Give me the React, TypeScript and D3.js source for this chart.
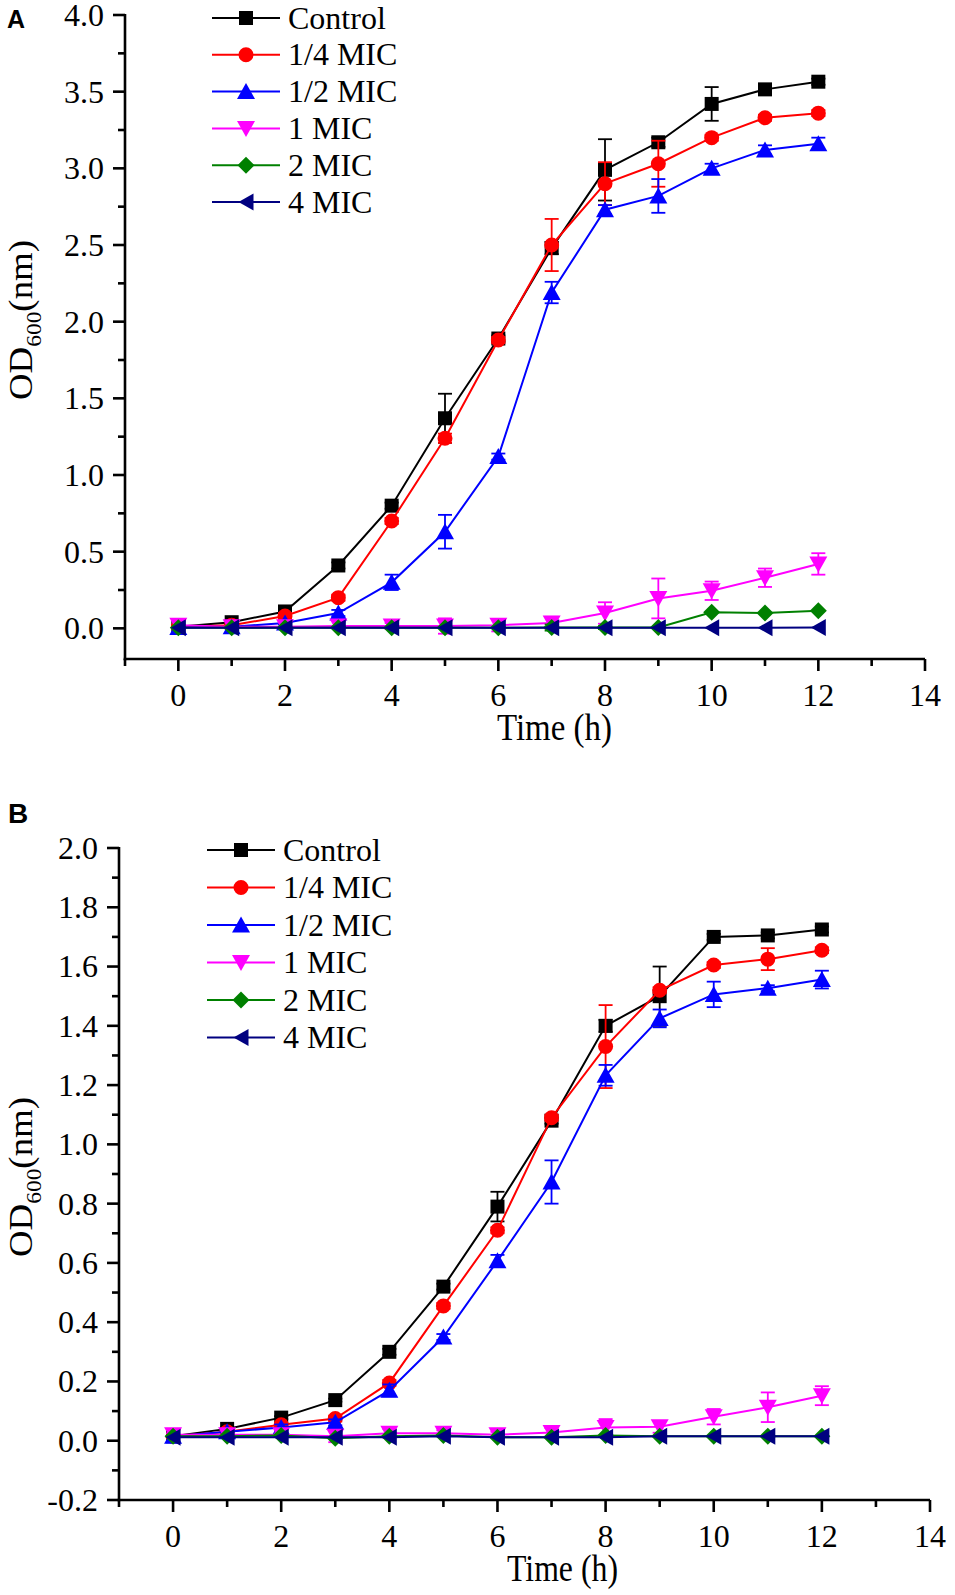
import React from 'react';
import * as d3 from 'd3';

// ---------- data ----------
const hours = [0, 1, 2, 3, 4, 5, 6, 7, 8, 9, 10, 11, 12];
const seriesNames = ['Control', '1/4 MIC', '1/2 MIC', '1 MIC', '2 MIC', '4 MIC'];
const seriesColors = ['#000000', '#ff0000', '#0000ff', '#ff00ff', '#008000', '#000080'];
const seriesShapes = ['square', 'circle', 'up', 'down', 'diamond', 'left'];

const xTicks = [0, 2, 4, 6, 8, 10, 12, 14];
const xMinorTicks = [-1, 1, 3, 5, 7, 9, 11, 13];

// Panel A
const aYTicks = [0, 0.5, 1.0, 1.5, 2.0, 2.5, 3.0, 3.5, 4.0];
const aYMinorTicks = [0.25, 0.75, 1.25, 1.75, 2.25, 2.75, 3.25, 3.75];
const aControl = [0.01, 0.04, 0.11, 0.41, 0.80, 1.37, 1.89, 2.48, 2.99, 3.17, 3.42, 3.515, 3.565];
const aControlErr = [0, 0.01, 0.01, 0.02, 0.02, 0.16, 0.02, 0.04, 0.2, 0.03, 0.11, 0.02, 0.02];
const aQuarter = [0.01, 0.02, 0.08, 0.2, 0.7, 1.24, 1.88, 2.5, 2.9, 3.03, 3.2, 3.33, 3.36];
const aQuarterErr = [0, 0.01, 0.02, 0.02, 0.02, 0.03, 0.02, 0.17, 0.14, 0.15, 0.02, 0.02, 0.02];
const aHalf = [0.005, 0.01, 0.035, 0.1, 0.3, 0.63, 1.12, 2.19, 2.73, 2.82, 3.0, 3.12, 3.16];
const aHalfErr = [0, 0, 0.01, 0.02, 0.05, 0.11, 0.02, 0.07, 0.03, 0.11, 0.03, 0.03, 0.04];
const aOne = [0.02, 0.01, 0.01, 0.015, 0.015, 0.015, 0.02, 0.035, 0.1, 0.195, 0.245, 0.33, 0.42];
const aOneErr = [0, 0, 0, 0, 0.02, 0.05, 0.04, 0.04, 0.07, 0.13, 0.06, 0.06, 0.07];
const aTwo = [0.003, 0.003, 0.003, 0.003, 0.003, 0.003, 0.003, 0.005, 0.005, 0.005, 0.105, 0.1, 0.115];
const aTwoErr = [0, 0, 0, 0, 0, 0, 0, 0.02, 0.01, 0, 0, 0, 0];
const aFour = [0.003, 0.003, 0.003, 0.003, 0.003, 0.003, 0.003, 0.003, 0.003, 0.003, 0.003, 0.004, 0.005];
const aFourErr = [0, 0, 0, 0, 0, 0, 0, 0, 0, 0, 0, 0, 0];

// Panel B
const bYTicks = [-0.2, 0, 0.2, 0.4, 0.6, 0.8, 1.0, 1.2, 1.4, 1.6, 1.8, 2.0];
const bYMinorTicks = [-0.1, 0.1, 0.3, 0.5, 0.7, 0.9, 1.1, 1.3, 1.5, 1.7, 1.9];
const bControl = [0.015, 0.04, 0.078, 0.137, 0.3, 0.52, 0.79, 1.08, 1.4, 1.5, 1.7, 1.705, 1.725];
const bControlErr = [0, 0.005, 0.005, 0.005, 0.01, 0.01, 0.05, 0.01, 0.02, 0.1, 0.01, 0.01, 0.01];
const bQuarter = [0.015, 0.03, 0.054, 0.075, 0.195, 0.455, 0.71, 1.09, 1.33, 1.52, 1.605, 1.625, 1.655];
const bQuarterErr = [0, 0, 0.005, 0.01, 0.01, 0.01, 0.01, 0.01, 0.14, 0.01, 0.01, 0.037, 0.01];
const bHalf = [0.015, 0.03, 0.045, 0.062, 0.17, 0.35, 0.607, 0.873, 1.233, 1.425, 1.506, 1.527, 1.556];
const bHalfErr = [0, 0, 0.01, 0.01, 0.02, 0.01, 0.02, 0.073, 0.035, 0.03, 0.043, 0.01, 0.03];
const bOne = [0.02, 0.02, 0.02, 0.015, 0.025, 0.025, 0.02, 0.028, 0.045, 0.047, 0.081, 0.113, 0.152];
const bOneErr = [0.005, 0, 0.005, 0.02, 0.015, 0.01, 0.01, 0.015, 0.028, 0.02, 0.026, 0.05, 0.032];
const bTwo = [0.015, 0.015, 0.018, 0.008, 0.015, 0.018, 0.012, 0.012, 0.018, 0.015, 0.015, 0.015, 0.015];
const bTwoErr = [0, 0, 0, 0, 0, 0, 0, 0, 0, 0, 0, 0, 0];
const bFour = [0.012, 0.012, 0.012, 0.012, 0.012, 0.015, 0.012, 0.012, 0.012, 0.015, 0.015, 0.015, 0.015];
const bFourErr = [0, 0, 0, 0, 0, 0, 0, 0, 0, 0, 0, 0, 0];

// ---------- drawing ----------
const SERIF = '"Liberation Serif", "Times New Roman", serif';
const SANS = '"Liberation Sans", Arial, sans-serif';

function markerPath(shape: string, cx: number, cy: number): string {
  switch (shape) {
    case 'square': {
      const h = 7;
      return `M${cx - h},${cy - h}H${cx + h}V${cy + h}H${cx - h}Z`;
    }
    case 'circle': {
      const r = 7.5;
      return `M${cx - r},${cy}A${r},${r} 0 1,0 ${cx + r},${cy}A${r},${r} 0 1,0 ${cx - r},${cy}Z`;
    }
    case 'up':
      return `M${cx},${cy - 8.5}L${cx + 9},${cy + 7.5}L${cx - 9},${cy + 7.5}Z`;
    case 'down':
      return `M${cx},${cy + 8.5}L${cx + 9},${cy - 7.5}L${cx - 9},${cy - 7.5}Z`;
    case 'diamond': {
      const h = 8.5;
      return `M${cx},${cy - h}L${cx + h},${cy}L${cx},${cy + h}L${cx - h},${cy}Z`;
    }
    case 'left':
      return `M${cx - 7.5},${cy}L${cx + 7.5},${cy - 8.5}L${cx + 7.5},${cy + 8.5}Z`;
    default:
      return '';
  }
}

interface PanelProps {
  label: string;
  labelX: number;
  labelY: number;
  labelSize: number;
  xRange: [number, number];
  yRange: [number, number];
  yDomain: [number, number];
  yTicks: number[];
  yMinor: number[];
  values: number[][];
  errors: number[][];
  legendX: number;
  legendY: number;
  legendStep: number;
  odCenter: number;
  timeX: number;
  timeLen: number;
}

function Panel(p: PanelProps) {
  const x = d3.scaleLinear().domain([-1, 14]).range(p.xRange);
  const y = d3.scaleLinear().domain(p.yDomain).range(p.yRange);
  const axisX = p.xRange[0];
  const axisY = p.yRange[0];
  const line = d3
    .line<number>()
    .x((_, i) => x(hours[i]))
    .y((v) => y(v));
  const tickMajor = 12;
  const tickMinor = 7;
  const axisW = 2.6;

  return (
    <g>
      <text x={p.labelX} y={p.labelY} fontFamily={SANS} fontWeight="bold" fontSize={p.labelSize}>
        {p.label}
      </text>

      {/* series */}
      {p.values.map((vals, si) => (
        <g key={si}>
          <path d={line(vals) || ''} fill="none" stroke={seriesColors[si]} strokeWidth={2} />
          {vals.map((v, i) => {
            const e = p.errors[si][i];
            if (!e) return null;
            const cx = x(hours[i]);
            return (
              <g key={'e' + i} stroke={seriesColors[si]} strokeWidth={1.8}>
                <line x1={cx} x2={cx} y1={y(v - e)} y2={y(v + e)} />
                <line x1={cx - 7} x2={cx + 7} y1={y(v + e)} y2={y(v + e)} />
                <line x1={cx - 7} x2={cx + 7} y1={y(v - e)} y2={y(v - e)} />
              </g>
            );
          })}
          {vals.map((v, i) => (
            <path key={'m' + i} d={markerPath(seriesShapes[si], x(hours[i]), y(v))} fill={seriesColors[si]} />
          ))}
        </g>
      ))}

      {/* axes */}
      <line x1={axisX} x2={axisX} y1={y(p.yDomain[1]) - 1} y2={axisY + axisW / 2} stroke="#000" strokeWidth={axisW} />
      <line x1={axisX - axisW / 2} x2={p.xRange[1]} y1={axisY} y2={axisY} stroke="#000" strokeWidth={axisW} />
      {p.yTicks.map((t) => (
        <g key={'yt' + t}>
          <line x1={axisX - tickMajor} x2={axisX} y1={y(t)} y2={y(t)} stroke="#000" strokeWidth={axisW} />
          <text
            x={axisX - 21}
            y={y(t)}
            dy="0.34em"
            textAnchor="end"
            fontFamily={SERIF}
            fontSize={32}
          >
            {t.toFixed(1)}
          </text>
        </g>
      ))}
      {p.yMinor.map((t) => (
        <line key={'ym' + t} x1={axisX - tickMinor} x2={axisX} y1={y(t)} y2={y(t)} stroke="#000" strokeWidth={axisW} />
      ))}
      {xTicks.map((t) => (
        <g key={'xt' + t}>
          <line x1={x(t)} x2={x(t)} y1={axisY} y2={axisY + tickMajor} stroke="#000" strokeWidth={axisW} />
          <text x={x(t)} y={axisY + 47} textAnchor="middle" fontFamily={SERIF} fontSize={32}>
            {t}
          </text>
        </g>
      ))}
      {xMinorTicks.map((t) => (
        <line key={'xm' + t} x1={x(t)} x2={x(t)} y1={axisY} y2={axisY + tickMinor} stroke="#000" strokeWidth={axisW} />
      ))}

      {/* axis titles */}
      <text
        x={p.timeX}
        y={axisY + 81}
        fontFamily={SERIF}
        fontSize={38}
        textLength={p.timeLen}
        lengthAdjust="spacingAndGlyphs"
      >
        Time (h)
      </text>
      <text
        transform={`translate(32,${p.odCenter}) rotate(-90)`}
        textAnchor="middle"
        fontFamily={SERIF}
        fontSize={33}
        textLength={160}
        lengthAdjust="spacingAndGlyphs"
      >
        OD
        <tspan fontSize={21} dy={9}>
          600
        </tspan>
        <tspan dy={-9}>(nm)</tspan>
      </text>

      {/* legend */}
      {seriesNames.map((name, si) => {
        const ly = p.legendY + si * p.legendStep;
        return (
          <g key={'lg' + si}>
            <line x1={p.legendX} x2={p.legendX + 68} y1={ly} y2={ly} stroke={seriesColors[si]} strokeWidth={2} />
            <path d={markerPath(seriesShapes[si], p.legendX + 34, ly)} fill={seriesColors[si]} />
            <text x={p.legendX + 76} y={ly} dy="0.33em" fontFamily={SERIF} fontSize={32}>
              {name}
            </text>
          </g>
        );
      })}
    </g>
  );
}

export default function App() {
  return (
    <svg
      width={955}
      height={1595}
      viewBox="0 0 955 1595"
      style={{ position: 'absolute', left: 0, top: 0, background: '#fff' }}
    >
      <rect x={0} y={0} width={955} height={1595} fill="#fff" />
      <Panel
        label="A"
        labelX={7}
        labelY={28}
        labelSize={25}
        xRange={[125, 925]}
        yRange={[659, 15]}
        yDomain={[-0.2, 4.0]}
        yTicks={aYTicks}
        yMinor={aYMinorTicks}
        values={[aControl, aQuarter, aHalf, aOne, aTwo, aFour]}
        errors={[aControlErr, aQuarterErr, aHalfErr, aOneErr, aTwoErr, aFourErr]}
        legendX={212}
        legendY={18}
        legendStep={36.8}
        odCenter={320}
        timeX={497}
        timeLen={115}
      />
      <Panel
        label="B"
        labelX={8}
        labelY={823}
        labelSize={28}
        xRange={[119, 930]}
        yRange={[1500, 848]}
        yDomain={[-0.2, 2.0]}
        yTicks={bYTicks}
        yMinor={bYMinorTicks}
        values={[bControl, bQuarter, bHalf, bOne, bTwo, bFour]}
        errors={[bControlErr, bQuarterErr, bHalfErr, bOneErr, bTwoErr, bFourErr]}
        legendX={207}
        legendY={850}
        legendStep={37.5}
        odCenter={1177}
        timeX={507}
        timeLen={111}
      />
    </svg>
  );
}
